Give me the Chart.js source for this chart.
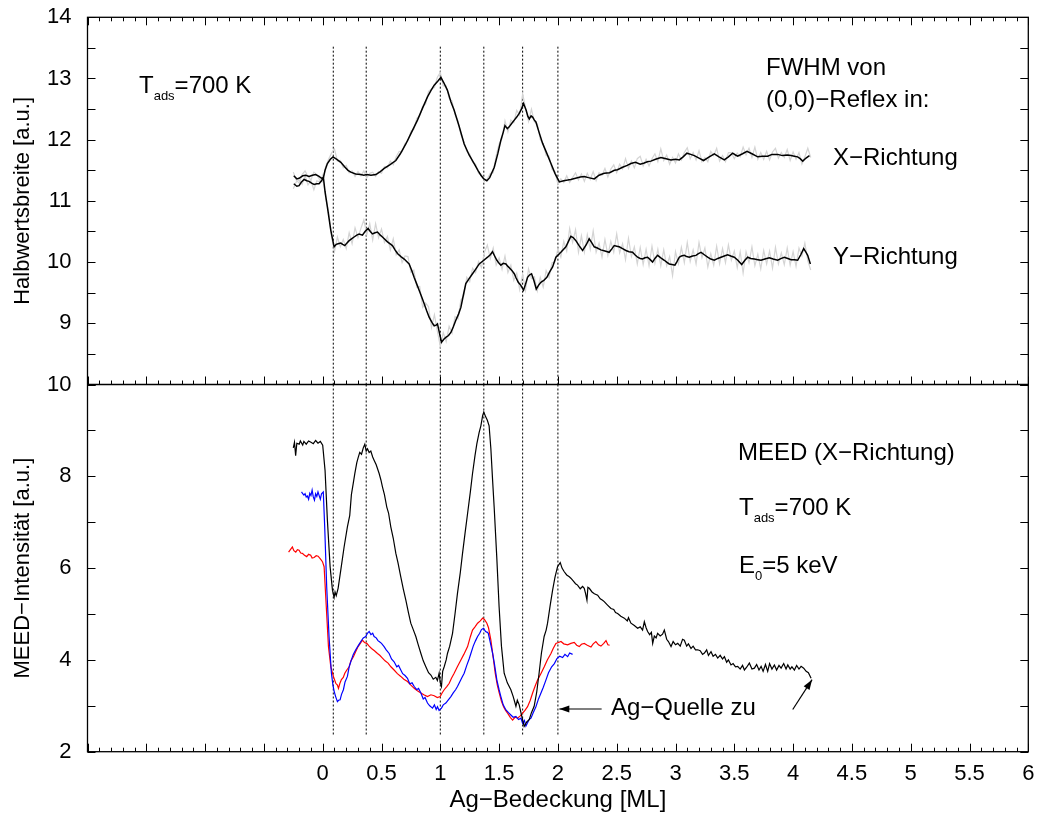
<!DOCTYPE html>
<html><head><meta charset="utf-8">
<script src="https://cdn.jsdelivr.net/npm/chart.js@4.4.0/dist/chart.umd.min.js"></script>
<style>html,body{margin:0;padding:0;background:#fff;}#wrap{width:1040px;height:821px;}</style>
</head><body><div id="wrap"><canvas id="c" width="1040" height="821"></canvas></div>
<script>
// ---------- data ----------
const xTickLabels = ['0','0.5','1','1.5','2','2.5','3','3.5','4','4.5','5','5.5','6'];
const vLines = [0.09, 0.37, 1.0, 1.37, 1.70, 2.0];
const vLineTop = 13.52, vLineBottom = 2.33;

// FWHM X-Richtung (smoothed)
const fwhmX = [[-0.246,11.41],[-0.22,11.36],[-0.201,11.37],[-0.17,11.41],[-0.144,11.42],[-0.115,11.40],[-0.088,11.42],[-0.06,11.43],[-0.031,11.40],[-0.01,11.37],[0.006,11.38],[0.02,11.50],[0.04,11.61],[0.065,11.68],[0.088,11.72],[0.12,11.68],[0.154,11.63],[0.19,11.55],[0.215,11.50],[0.239,11.47],[0.28,11.44],[0.324,11.43],[0.35,11.42],[0.375,11.43],[0.41,11.42],[0.452,11.43],[0.49,11.48],[0.523,11.53],[0.57,11.59],[0.622,11.66],[0.66,11.77],[0.707,11.93],[0.75,12.10],[0.806,12.32],[0.85,12.52],[0.891,12.70],[0.92,12.80],[0.948,12.89],[0.98,12.96],[1.005,13.02],[1.03,12.93],[1.06,12.81],[1.09,12.62],[1.118,12.48],[1.16,12.22],[1.203,11.93],[1.245,11.75],[1.288,11.61],[1.32,11.50],[1.345,11.42],[1.37,11.36],[1.396,11.33],[1.42,11.38],[1.459,11.55],[1.49,11.78],[1.515,11.99],[1.535,12.12],[1.55,12.23],[1.57,12.18],[1.586,12.21],[1.605,12.26],[1.629,12.32],[1.65,12.37],[1.671,12.43],[1.69,12.50],[1.708,12.59],[1.73,12.48],[1.745,12.38],[1.757,12.34],[1.772,12.39],[1.785,12.37],[1.80,12.32],[1.813,12.29],[1.84,12.12],[1.87,11.94],[1.905,11.78],[1.941,11.61],[1.975,11.45],[2.012,11.31],[2.05,11.33],[2.083,11.34],[2.11,11.35],[2.15,11.37],[2.19,11.39],[2.224,11.40],[2.26,11.38],[2.309,11.36],[2.35,11.42],[2.394,11.45],[2.44,11.46],[2.48,11.50],[2.507,11.51],[2.55,11.55],[2.59,11.58],[2.621,11.61],[2.66,11.63],[2.70,11.60],[2.734,11.62],[2.76,11.64],[2.791,11.65],[2.83,11.68],[2.876,11.71],[2.92,11.69],[2.961,11.67],[3.00,11.68],[3.032,11.67],[3.065,11.72],[3.097,11.78],[3.13,11.76],[3.16,11.74],[3.20,11.70],[3.239,11.66],[3.28,11.71],[3.33,11.77],[3.37,11.72],[3.415,11.67],[3.45,11.72],[3.486,11.78],[3.51,11.75],[3.529,11.73],[3.57,11.77],[3.608,11.81],[3.65,11.77],[3.699,11.72],[3.74,11.73],[3.784,11.73],[3.82,11.76],[3.869,11.76],[3.91,11.74],[3.95,11.75],[3.983,11.74],[4.01,11.73],[4.039,11.72],[4.06,11.69],[4.082,11.65],[4.11,11.70],[4.139,11.74]];

// FWHM Y-Richtung (smoothed)
const fwhmY = [[-0.246,11.28],[-0.22,11.24],[-0.201,11.25],[-0.18,11.31],[-0.158,11.35],[-0.135,11.33],[-0.116,11.32],[-0.095,11.29],[-0.073,11.27],[-0.05,11.28],[-0.031,11.28],[-0.01,11.33],[0.006,11.38],[0.02,11.15],[0.04,10.90],[0.069,10.52],[0.097,10.25],[0.115,10.29],[0.131,10.30],[0.154,10.31],[0.17,10.29],[0.188,10.27],[0.205,10.31],[0.225,10.35],[0.245,10.38],[0.267,10.41],[0.29,10.44],[0.31,10.46],[0.338,10.44],[0.36,10.50],[0.386,10.55],[0.405,10.50],[0.423,10.46],[0.445,10.48],[0.466,10.49],[0.49,10.44],[0.508,10.41],[0.53,10.37],[0.551,10.33],[0.593,10.27],[0.615,10.20],[0.636,10.14],[0.665,10.09],[0.693,10.05],[0.735,9.97],[0.758,9.86],[0.778,9.75],[0.80,9.64],[0.82,9.54],[0.842,9.43],[0.863,9.32],[0.885,9.20],[0.905,9.10],[0.93,9.01],[0.948,8.96],[0.965,8.97],[0.976,8.99],[0.993,8.84],[1.01,8.69],[1.03,8.74],[1.047,8.77],[1.07,8.80],[1.09,8.85],[1.11,8.94],[1.132,9.05],[1.155,9.15],[1.175,9.26],[1.195,9.45],[1.217,9.65],[1.245,9.73],[1.274,9.81],[1.30,9.88],[1.331,9.97],[1.37,10.03],[1.402,10.08],[1.425,10.12],[1.444,10.17],[1.462,10.10],[1.481,10.03],[1.50,9.98],[1.515,9.95],[1.535,9.98],[1.558,9.97],[1.575,9.93],[1.595,9.89],[1.61,9.86],[1.629,9.81],[1.645,9.74],[1.663,9.67],[1.685,9.62],[1.708,9.54],[1.725,9.64],[1.742,9.75],[1.758,9.79],[1.776,9.81],[1.796,9.70],[1.816,9.56],[1.835,9.62],[1.855,9.67],[1.88,9.70],[1.906,9.75],[1.93,9.84],[1.955,9.92],[1.983,10.08],[2.025,10.16],[2.068,10.25],[2.11,10.42],[2.13,10.40],[2.153,10.35],[2.18,10.27],[2.21,10.19],[2.24,10.28],[2.266,10.38],[2.29,10.31],[2.309,10.25],[2.335,10.23],[2.365,10.20],[2.40,10.18],[2.436,10.16],[2.46,10.22],[2.479,10.27],[2.50,10.26],[2.521,10.25],[2.55,10.22],[2.578,10.19],[2.605,10.17],[2.635,10.16],[2.655,10.12],[2.678,10.08],[2.70,10.06],[2.72,10.05],[2.74,10.07],[2.763,10.08],[2.785,10.04],[2.805,10.00],[2.825,10.06],[2.848,10.11],[2.875,10.07],[2.905,10.03],[2.925,10.00],[2.947,9.97],[2.97,9.96],[2.995,9.95],[3.01,10.00],[3.032,10.08],[3.05,10.10],[3.075,10.11],[3.095,10.09],[3.117,10.08],[3.145,10.10],[3.174,10.11],[3.195,10.14],[3.217,10.16],[3.245,10.12],[3.273,10.08],[3.30,10.05],[3.33,10.03],[3.36,10.06],[3.387,10.08],[3.415,10.10],[3.443,10.12],[3.47,10.10],[3.50,10.08],[3.53,10.03],[3.563,9.96],[3.59,10.03],[3.614,10.08],[3.64,10.06],[3.67,10.05],[3.70,10.04],[3.727,10.03],[3.76,10.05],[3.798,10.07],[3.83,10.05],[3.869,10.03],[3.90,10.06],[3.926,10.08],[3.955,10.06],[3.983,10.04],[4.01,10.04],[4.039,10.03],[4.065,10.12],[4.09,10.22],[4.11,10.16],[4.124,10.11],[4.147,9.97]];

// raw (unsmoothed) FWHM values, grey
const rawGridX = [-0.25,-0.225,-0.2,-0.175,-0.15,-0.125,-0.1,-0.075,-0.05,-0.025,
0,0.025,0.05,0.075,0.1,0.125,0.15,0.175,0.2,0.225,
0.25,0.275,0.3,0.325,0.35,0.375,0.4,0.425,0.45,0.475,
0.5,0.525,0.55,0.575,0.6,0.625,0.65,0.675,0.7,0.725,
0.75,0.775,0.8,0.825,0.85,0.875,0.9,0.925,0.95,0.975,
1,1.025,1.05,1.075,1.1,1.125,1.15,1.175,1.2,1.225,
1.25,1.275,1.3,1.325,1.35,1.375,1.4,1.425,1.45,1.475,
1.5,1.525,1.55,1.575,1.6,1.625,1.65,1.675,1.7,1.725,
1.75,1.775,1.8,1.825,1.85,1.875,1.9,1.925,1.95,1.975,
2,2.025,2.05,2.075,2.1,2.125,2.15,2.175,2.2,2.225,
2.25,2.275,2.3,2.325,2.35,2.375,2.4,2.425,2.45,2.475,
2.5,2.525,2.55,2.575,2.6,2.625,2.65,2.675,2.7,2.725,
2.75,2.775,2.8,2.825,2.85,2.875,2.9,2.925,2.95,2.975,
3,3.025,3.05,3.075,3.1,3.125,3.15,3.175,3.2,3.225,
3.25,3.275,3.3,3.325,3.35,3.375,3.4,3.425,3.45,3.475,
3.5,3.525,3.55,3.575,3.6,3.625,3.65,3.675,3.7,3.725,
3.75,3.775,3.8,3.825,3.85,3.875,3.9,3.925,3.95,3.975,
4,4.025,4.05,4.075,4.1,4.125,4.15];
const rawFX = [11.47,11.34,11.29,11.43,11.49,11.40,11.34,11.47,11.43,11.34,
11.31,11.56,11.68,11.78,11.85,11.65,11.66,11.54,11.58,11.46,
11.49,11.40,11.48,11.41,11.49,11.38,11.45,11.47,11.40,11.48,
11.45,11.56,11.54,11.65,11.59,11.72,11.81,11.80,11.94,11.98,
12.14,12.17,12.35,12.39,12.55,12.58,12.79,12.83,12.85,13.02,
13.10,12.88,12.88,12.68,12.63,12.41,12.31,12.08,11.97,11.81,
11.77,11.63,11.60,11.45,11.43,11.32,11.36,11.45,11.46,11.74,
11.93,12.02,12.31,12.13,12.32,12.28,12.48,12.40,12.75,12.52,
12.30,12.50,12.29,12.26,12.00,11.94,11.74,11.73,11.51,11.48,
11.27,11.36,11.30,11.41,11.30,11.38,11.46,11.34,11.44,11.32,
11.45,11.35,11.48,11.33,11.46,11.42,11.53,11.39,11.52,11.59,
11.46,11.60,11.52,11.69,11.53,11.65,11.54,11.69,11.73,11.57,
11.68,11.57,11.69,11.77,11.64,11.85,11.66,11.75,11.60,11.71,
11.62,11.77,11.67,11.79,11.87,11.69,11.79,11.67,11.82,11.64,
11.71,11.64,11.81,11.74,11.86,11.65,11.74,11.64,11.79,11.79,
11.69,11.78,11.72,11.88,11.75,11.86,11.71,11.88,11.68,11.79,
11.68,11.81,11.67,11.80,11.86,11.70,11.79,11.71,11.84,11.66,
11.80,11.68,11.79,11.60,11.72,11.86,11.71];
const rawFY = [11.20,11.31,11.34,11.27,11.41,11.26,11.33,11.18,11.33,11.31,
11.42,11.05,10.83,10.41,10.17,10.41,10.25,10.37,10.22,10.48,
10.30,10.56,10.40,10.55,10.69,10.45,10.63,10.36,10.63,10.40,
10.54,10.32,10.42,10.20,10.38,10.12,10.20,9.99,10.10,10.09,
9.83,9.87,9.59,9.60,9.26,9.33,9.27,8.93,9.14,8.87,
8.62,8.85,8.70,8.95,8.84,9.11,9.07,9.38,9.45,9.75,
9.68,9.90,9.83,10.01,9.91,10.16,10.28,10.06,10.23,9.95,
10.07,9.88,10.10,9.83,9.95,9.70,9.82,9.55,9.80,9.54,
9.89,9.73,9.76,9.53,9.75,9.59,9.86,9.75,9.99,10.00,
10.22,10.08,10.34,10.18,10.55,10.32,10.53,10.16,10.43,10.16,
10.45,10.21,10.51,10.16,10.31,10.08,10.37,10.11,10.34,10.16,
10.46,10.15,10.30,10.04,10.39,10.09,10.25,9.97,10.24,9.96,
10.21,9.94,10.26,9.98,10.21,9.94,10.20,9.94,10.09,9.78,
10.17,9.97,10.24,9.99,10.32,10.01,10.20,9.97,10.32,10.07,
10.23,9.92,10.14,9.95,10.26,9.97,10.22,9.99,10.28,10.03,
10.18,9.91,10.17,9.82,10.17,9.99,10.25,9.94,10.13,9.89,
10.19,9.97,10.18,9.90,10.24,9.97,10.15,9.96,10.23,9.95,
10.17,9.93,10.23,10.10,10.31,10.02,9.87];

// MEED intensity, black
const meedBlack = [[-0.25,8.62],[-0.24,8.74],[-0.23,8.45],[-0.22,8.72],[-0.20,8.70],[-0.19,8.77],[-0.17,8.68],[-0.16,8.76],[-0.14,8.70],[-0.12,8.77],[-0.10,8.74],[-0.08,8.71],[-0.06,8.78],[-0.04,8.72],[-0.02,8.76],[0.00,8.68],[0.02,8.13],[0.04,7.04],[0.063,6.03],[0.083,5.52],[0.097,5.36],[0.105,5.48],[0.115,5.40],[0.131,5.56],[0.154,5.96],[0.182,6.46],[0.21,6.90],[0.23,7.15],[0.244,7.60],[0.26,7.85],[0.273,8.06],[0.29,8.30],[0.301,8.40],[0.315,8.52],[0.33,8.48],[0.345,8.62],[0.358,8.70],[0.37,8.55],[0.381,8.60],[0.395,8.52],[0.409,8.55],[0.425,8.42],[0.437,8.35],[0.455,8.25],[0.48,8.06],[0.495,7.92],[0.508,7.77],[0.525,7.60],[0.545,7.33],[0.56,7.20],[0.579,6.90],[0.60,6.65],[0.622,6.32],[0.64,6.12],[0.664,5.81],[0.685,5.55],[0.707,5.30],[0.73,5.02],[0.749,4.80],[0.77,4.66],[0.792,4.51],[0.81,4.35],[0.835,4.14],[0.855,3.98],[0.877,3.85],[0.90,3.72],[0.92,3.67],[0.94,3.58],[0.962,3.62],[0.975,3.55],[0.99,3.71],[1.00,3.50],[1.01,3.42],[1.02,3.75],[1.033,3.85],[1.05,4.00],[1.061,4.14],[1.08,4.30],[1.104,4.58],[1.125,5.00],[1.146,5.45],[1.17,5.90],[1.189,6.32],[1.21,6.75],[1.232,7.19],[1.255,7.65],[1.274,8.06],[1.295,8.45],[1.311,8.71],[1.33,8.95],[1.345,9.10],[1.36,9.32],[1.37,9.40],[1.385,9.30],[1.40,9.22],[1.415,9.10],[1.43,8.60],[1.445,7.90],[1.458,7.33],[1.48,6.25],[1.50,5.16],[1.52,4.30],[1.543,3.71],[1.57,3.50],[1.60,3.35],[1.62,3.20],[1.643,2.99],[1.655,3.12],[1.671,3.02],[1.69,2.80],[1.713,2.55],[1.735,2.65],[1.756,2.70],[1.775,2.85],[1.798,2.99],[1.82,3.30],[1.84,3.71],[1.86,4.15],[1.883,4.51],[1.90,4.65],[1.912,4.80],[1.935,5.20],[1.955,5.52],[1.975,5.80],[1.997,6.03],[2.02,6.12],[2.035,6.00],[2.054,5.92],[2.075,5.85],[2.097,5.81],[2.11,5.78],[2.13,5.72],[2.15,5.66],[2.167,5.63],[2.19,5.55],[2.21,5.60],[2.224,5.56],[2.235,5.45],[2.247,5.30],[2.255,5.58],[2.267,5.56],[2.29,5.48],[2.31,5.44],[2.338,5.41],[2.36,5.33],[2.38,5.30],[2.394,5.27],[2.42,5.20],[2.451,5.12],[2.475,5.10],[2.49,5.03],[2.508,5.01],[2.535,4.95],[2.565,4.91],[2.59,4.85],[2.60,4.92],[2.621,4.80],[2.65,4.75],[2.678,4.69],[2.70,4.72],[2.72,4.65],[2.735,4.83],[2.75,4.70],[2.763,4.62],[2.78,4.55],[2.795,4.60],[2.806,4.36],[2.82,4.52],[2.835,4.48],[2.848,4.58],[2.87,4.52],[2.89,4.56],[2.905,4.65],[2.925,4.45],[2.94,4.40],[2.962,4.29],[2.98,4.40],[3.00,4.33],[3.019,4.36],[3.04,4.30],[3.06,4.45],[3.075,4.43],[3.095,4.30],[3.11,4.35],[3.132,4.25],[3.15,4.30],[3.17,4.22],[3.189,4.22],[3.21,4.20],[3.23,4.12],[3.246,4.15],[3.265,4.22],[3.28,4.10],[3.302,4.18],[3.32,4.08],[3.34,4.12],[3.359,4.04],[3.38,4.10],[3.40,4.02],[3.416,4.07],[3.435,3.95],[3.45,4.00],[3.472,3.89],[3.49,3.92],[3.51,3.85],[3.529,3.86],[3.55,3.80],[3.57,3.88],[3.586,3.78],[3.605,3.84],[3.628,3.93],[3.65,3.80],[3.671,3.82],[3.69,3.90],[3.71,3.78],[3.728,3.86],[3.745,3.75],[3.765,3.90],[3.784,3.75],[3.80,3.92],[3.82,3.80],[3.841,3.89],[3.86,3.78],[3.88,3.88],[3.898,3.82],[3.92,3.92],[3.94,3.80],[3.955,3.89],[3.975,3.80],[3.99,3.85],[4.011,3.78],[4.03,3.88],[4.05,3.80],[4.068,3.86],[4.09,3.82],[4.111,3.75],[4.13,3.72],[4.153,3.60]];

// MEED intensity, blue
const meedBlue = [[-0.18,7.66],[-0.17,7.62],[-0.16,7.59],[-0.15,7.62],[-0.14,7.55],[-0.13,7.57],[-0.12,7.50],[-0.11,7.63],[-0.10,7.58],[-0.09,7.70],[-0.08,7.55],[-0.07,7.48],[-0.06,7.62],[-0.05,7.56],[-0.04,7.66],[-0.03,7.58],[-0.02,7.50],[-0.01,7.62],[0.005,7.66],[0.017,6.90],[0.034,5.59],[0.054,4.51],[0.074,3.71],[0.087,3.45],[0.097,3.32],[0.11,3.20],[0.125,3.09],[0.135,3.12],[0.148,3.13],[0.16,3.25],[0.176,3.35],[0.19,3.52],[0.21,3.64],[0.225,3.85],[0.244,4.00],[0.26,4.12],[0.281,4.22],[0.30,4.30],[0.324,4.40],[0.345,4.48],[0.366,4.51],[0.38,4.58],[0.395,4.62],[0.41,4.55],[0.425,4.58],[0.437,4.51],[0.455,4.48],[0.47,4.42],[0.48,4.40],[0.50,4.36],[0.522,4.29],[0.54,4.22],[0.565,4.14],[0.585,4.02],[0.607,3.96],[0.63,3.85],[0.645,3.88],[0.664,3.78],[0.68,3.70],[0.70,3.66],[0.721,3.60],[0.74,3.48],[0.76,3.50],[0.778,3.42],[0.80,3.35],[0.815,3.38],[0.835,3.28],[0.855,3.15],[0.87,3.18],[0.891,3.06],[0.91,3.00],[0.934,2.95],[0.95,3.02],[0.965,2.92],[0.976,2.98],[0.99,2.90],[1.01,2.95],[1.025,3.02],[1.047,3.06],[1.065,3.12],[1.09,3.20],[1.11,3.28],[1.13,3.35],[1.146,3.42],[1.165,3.52],[1.185,3.62],[1.203,3.71],[1.225,3.88],[1.245,4.02],[1.26,4.14],[1.28,4.30],[1.30,4.42],[1.317,4.51],[1.335,4.58],[1.35,4.66],[1.368,4.69],[1.385,4.62],[1.40,4.60],[1.408,4.58],[1.425,4.38],[1.445,4.14],[1.46,3.92],[1.481,3.56],[1.50,3.35],[1.515,3.20],[1.535,3.02],[1.558,2.91],[1.58,2.85],[1.60,2.80],[1.62,2.75],[1.643,2.77],[1.665,2.70],[1.686,2.73],[1.70,2.62],[1.715,2.68],[1.728,2.56],[1.74,2.62],[1.755,2.70],[1.771,2.73],[1.79,2.85],[1.813,2.98],[1.835,3.15],[1.856,3.28],[1.875,3.40],[1.898,3.56],[1.92,3.72],[1.947,3.85],[1.97,3.92],[1.992,4.03],[2.015,4.08],[2.04,4.05],[2.06,4.12],[2.083,4.07],[2.10,4.15],[2.125,4.12]];

// MEED intensity, red
const meedRed = [[-0.29,6.35],[-0.27,6.42],[-0.258,6.46],[-0.245,6.38],[-0.229,6.35],[-0.215,6.40],[-0.201,6.39],[-0.187,6.33],[-0.173,6.32],[-0.155,6.28],[-0.136,6.25],[-0.12,6.30],[-0.102,6.28],[-0.09,6.22],[-0.073,6.23],[-0.055,6.27],[-0.039,6.26],[-0.02,6.20],[-0.002,6.14],[0.012,6.03],[0.029,5.23],[0.049,4.29],[0.069,3.85],[0.091,3.64],[0.111,3.49],[0.125,3.45],[0.134,3.38],[0.145,3.48],[0.159,3.57],[0.175,3.62],[0.188,3.71],[0.205,3.78],[0.225,3.85],[0.24,3.98],[0.261,4.07],[0.28,4.18],[0.301,4.29],[0.32,4.36],[0.338,4.43],[0.355,4.38],[0.375,4.36],[0.395,4.30],[0.415,4.25],[0.44,4.20],[0.466,4.14],[0.485,4.10],[0.508,4.04],[0.53,3.98],[0.556,3.93],[0.58,3.85],[0.607,3.78],[0.635,3.70],[0.664,3.64],[0.69,3.58],[0.721,3.53],[0.75,3.45],[0.778,3.38],[0.805,3.33],[0.835,3.28],[0.86,3.24],[0.891,3.20],[0.92,3.24],[0.948,3.22],[0.975,3.18],[0.999,3.20],[1.015,3.28],[1.033,3.35],[1.055,3.42],[1.076,3.49],[1.095,3.60],[1.118,3.71],[1.145,3.85],[1.175,4.00],[1.20,4.12],[1.232,4.29],[1.255,4.50],[1.274,4.65],[1.295,4.72],[1.317,4.80],[1.34,4.85],[1.36,4.91],[1.375,4.88],[1.396,4.80],[1.41,4.70],[1.43,4.43],[1.45,4.05],[1.467,3.71],[1.485,3.45],[1.501,3.28],[1.52,3.10],[1.538,2.98],[1.555,2.90],[1.572,2.84],[1.595,2.75],[1.615,2.69],[1.635,2.75],[1.657,2.73],[1.68,2.78],[1.70,2.84],[1.72,2.90],[1.742,2.98],[1.765,3.12],[1.785,3.28],[1.805,3.42],[1.827,3.56],[1.855,3.70],[1.884,3.85],[1.91,4.00],[1.941,4.14],[1.96,4.25],[1.983,4.36],[2.005,4.38],[2.026,4.40],[2.05,4.35],[2.083,4.33],[2.11,4.36],[2.139,4.38],[2.16,4.32],[2.182,4.29],[2.20,4.34],[2.224,4.36],[2.25,4.32],[2.281,4.28],[2.30,4.35],[2.323,4.40],[2.345,4.33],[2.366,4.30],[2.39,4.36],[2.409,4.42],[2.425,4.33],[2.44,4.32]];

// annotation arrows (data coordinates, bottom panel)
const arrowQuelle = [[2.372, 2.93], [2.012, 2.93]];
const arrowEnd = [[3.997, 2.92], [4.161, 3.57]];

// ---------- chart ----------
const FAM = "'Liberation Sans', Arial, Helvetica, sans-serif";
Chart.defaults.font.family = FAM;
Chart.defaults.color = '#000';

const pts = arr => arr.map(p => ({x: p[0], y: p[1]}));
const datasets = [];
datasets.push({data: pts(meedBlack), yAxisID: 'yB', borderColor: '#000', borderWidth: 1.2, order: 0});
datasets.push({data: pts(meedBlue), yAxisID: 'yB', borderColor: '#0000ff', borderWidth: 1.2, order: 1});
datasets.push({data: pts(meedRed), yAxisID: 'yB', borderColor: '#ff0000', borderWidth: 1.2, order: 2});
datasets.push({data: pts(fwhmX), yAxisID: 'yT', borderColor: '#000', borderWidth: 1.5, order: 0});
datasets.push({data: pts(fwhmY), yAxisID: 'yT', borderColor: '#000', borderWidth: 1.5, order: 0});
datasets.push({data: rawGridX.map((x, i) => ({x, y: rawFX[i]})), yAxisID: 'yT', borderColor: '#d4d4d4', borderWidth: 1.2, order: 5});
datasets.push({data: rawGridX.map((x, i) => ({x, y: rawFY[i]})), yAxisID: 'yT', borderColor: '#d4d4d4', borderWidth: 1.2, order: 5});
vLines.forEach(v => {
  datasets.push({data: [{x: v, y: vLineTop}, {x: v, y: 8}], yAxisID: 'yT', borderColor: '#000', borderWidth: 1, borderDash: [2, 2], order: 10});
  datasets.push({data: [{x: v, y: 10}, {x: v, y: vLineBottom}], yAxisID: 'yB', borderColor: '#000', borderWidth: 1, borderDash: [2, 2], order: 10});
});

function drawRich(ctx, parts, x, y, size) {
  let cx = x;
  for (const p of parts) {
    const fs = p.sub ? 13 : size;
    ctx.font = fs + 'px ' + FAM;
    ctx.fillText(p.t, cx, y + (p.sub ? 7 : 0));
    cx += ctx.measureText(p.t).width;
  }
}
function arrow(ctx, x1, y1, x2, y2) {
  ctx.beginPath(); ctx.moveTo(x1, y1); ctx.lineTo(x2, y2); ctx.stroke();
  const a = Math.atan2(y2 - y1, x2 - x1), L = 10, W = 3.5;
  ctx.beginPath();
  ctx.moveTo(x2, y2);
  ctx.lineTo(x2 - L * Math.cos(a) + W * Math.sin(a), y2 - L * Math.sin(a) - W * Math.cos(a));
  ctx.lineTo(x2 - L * Math.cos(a) - W * Math.sin(a), y2 - L * Math.sin(a) + W * Math.cos(a));
  ctx.closePath(); ctx.fill();
}

const framePlugin = {
  id: 'frame',
  afterDraw(chart) {
    const {ctx, chartArea: a, scales} = chart;
    const x = scales.x, yT = scales.yT, yB = scales.yB;
    const mid = yT.getPixelForValue(8);
    ctx.save();
    ctx.strokeStyle = '#000'; ctx.fillStyle = '#000'; ctx.lineWidth = 1.3;
    ctx.strokeRect(a.left, a.top, a.right - a.left, a.bottom - a.top);
    ctx.beginPath(); ctx.moveTo(a.left, mid); ctx.lineTo(a.right, mid); ctx.stroke();
    ctx.lineWidth = 1;
    ctx.beginPath();
    for (let i = -20; i <= 60; i++) {
      const px = Math.round(x.getPixelForValue(i / 10)) + 0.5;
      const L = (i % 5 === 0) ? 8 : 4;
      ctx.moveTo(px, a.bottom); ctx.lineTo(px, a.bottom - L);
      ctx.moveTo(px, a.top); ctx.lineTo(px, a.top + L);
      ctx.moveTo(px, mid); ctx.lineTo(px, mid - L);
    }
    for (let i = 16; i <= 28; i++) {
      const py = Math.round(yT.getPixelForValue(i / 2)) + 0.5;
      ctx.moveTo(a.left, py); ctx.lineTo(a.left + 8, py);
      ctx.moveTo(a.right, py); ctx.lineTo(a.right - 8, py);
    }
    for (let v = 2; v <= 10; v++) {
      const py = Math.round(yB.getPixelForValue(v)) + 0.5;
      ctx.moveTo(a.left, py); ctx.lineTo(a.left + 8, py);
      ctx.moveTo(a.right, py); ctx.lineTo(a.right - 8, py);
    }
    ctx.stroke();

    // annotations
    ctx.textBaseline = 'alphabetic'; ctx.textAlign = 'left';
    const S = 24;
    drawRich(ctx, [{t: 'T'}, {t: 'ads', sub: true}, {t: '=700 K'}], 139, 93, S);
    drawRich(ctx, [{t: 'FWHM von'}], 766, 75, S);
    drawRich(ctx, [{t: '(0,0)\u2212Reflex in:'}], 766, 107, S);
    drawRich(ctx, [{t: 'X\u2212Richtung'}], 833, 165, S);
    drawRich(ctx, [{t: 'Y\u2212Richtung'}], 833, 264, S);
    drawRich(ctx, [{t: 'MEED (X\u2212Richtung)'}], 738, 460, S);
    drawRich(ctx, [{t: 'T'}, {t: 'ads', sub: true}, {t: '=700 K'}], 739, 515, S);
    drawRich(ctx, [{t: 'E'}, {t: '0', sub: true}, {t: '=5 keV'}], 739, 573, S);
    drawRich(ctx, [{t: 'Ag\u2212Quelle zu'}], 611, 715, S);

    ctx.lineWidth = 1.2;
    arrow(ctx, x.getPixelForValue(arrowQuelle[0][0]), yB.getPixelForValue(arrowQuelle[0][1]),
               x.getPixelForValue(arrowQuelle[1][0]), yB.getPixelForValue(arrowQuelle[1][1]));
    arrow(ctx, x.getPixelForValue(arrowEnd[0][0]), yB.getPixelForValue(arrowEnd[0][1]),
               x.getPixelForValue(arrowEnd[1][0]), yB.getPixelForValue(arrowEnd[1][1]));
    ctx.restore();
  }
};

const noPad = s => { s.paddingTop = 0; s.paddingBottom = 0; s.paddingLeft = 0; s.paddingRight = 0; };

new Chart(document.getElementById('c'), {
  type: 'line',
  data: {datasets},
  options: {
    responsive: false, animation: false, devicePixelRatio: 1,
    layout: {padding: {left: 0, right: 11.7, top: 17.3, bottom: 0}},
    plugins: {legend: {display: false}, tooltip: {enabled: false}},
    elements: {point: {radius: 0}, line: {tension: 0, fill: false}},
    scales: {
      x: {
        type: 'linear', position: 'bottom', min: -2, max: 6,
        grid: {display: false, drawTicks: false}, border: {display: false},
        ticks: {stepSize: 0.5, autoSkip: false, maxRotation: 0, padding: 9, font: {size: 22},
          callback: v => (v < -1e-9 ? '' : xTickLabels[Math.round(v * 2)])},
        title: {display: true, text: 'Ag\u2212Bedeckung [ML]', font: {size: 24}, padding: {top: 0, bottom: 6}},
        afterFit: s => { s.height = 69.3; noPad(s); }
      },
      yB: {
        type: 'linear', position: 'left', stack: 'panels', stackWeight: 1, min: 2, max: 10,
        grid: {display: false, drawTicks: false}, border: {display: false},
        ticks: {stepSize: 2, padding: 16, font: {size: 22}},
        title: {display: true, text: 'MEED\u2212Intensit\u00e4t [a.u.]', font: {size: 22}, padding: {top: 10, bottom: 0}},
        afterFit: s => { s.width = 87.5; noPad(s); }
      },
      yT: {
        type: 'linear', position: 'left', stack: 'panels', stackWeight: 1, min: 8, max: 14,
        grid: {display: false, drawTicks: false}, border: {display: false},
        ticks: {stepSize: 1, padding: 16, font: {size: 22}, callback: v => (v === 8 ? '' : String(v))},
        title: {display: true, text: 'Halbwertsbreite [a.u.]', font: {size: 22}, padding: {top: 10, bottom: 0}},
        afterFit: s => { s.width = 87.5; noPad(s); }
      }
    }
  },
  plugins: [framePlugin]
});
</script></body></html>
